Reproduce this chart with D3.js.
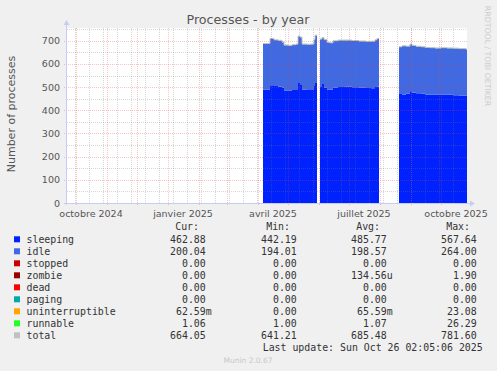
<!DOCTYPE html>
<html>
<head>
<meta charset="utf-8">
<script src="https://cdn.jsdelivr.net/npm/d3@7"></script>
<style>
  body { margin: 0; background: #f0f0f0; }
  svg { display: block; }
  text { white-space: pre; }
</style>
</head>
<body>
<div id="chart"></div>
<script>
// Samples (null = no data)
const dates = [
  '2025-04-06','2025-04-13','2025-04-17','2025-04-21','2025-04-25','2025-04-27','2025-05-01','2025-05-05',
  '2025-05-09','2025-05-11','2025-05-13','2025-05-15','2025-05-20','2025-05-24','2025-05-27','2025-05-28',
  '2025-05-30','2025-05-31',
  '2025-06-02','2025-06-04','2025-06-06','2025-06-09','2025-06-12','2025-06-15','2025-06-20','2025-06-27',
  '2025-07-04','2025-07-11','2025-07-18','2025-07-23','2025-07-27','2025-07-29','2025-07-31','2025-08-01',
  '2025-08-20','2025-08-23','2025-08-27','2025-08-31','2025-09-02','2025-09-06','2025-09-11','2025-09-15',
  '2025-09-20','2025-09-25','2025-10-01','2025-10-07','2025-10-13','2025-10-19','2025-10-26','2025-10-27'
];
const sleeping = [
  489, 508, 505, 502, 497, 485, 484, 487, 488, 518, 512, 490, 487, 488, 505, 518, 518, null,
  500, 513, 498, 490, 489, 498, 500, 502, 499, 497, 496, 495, 500, 503, 503, null,
  470, 468, 472, 482, 476, 474, 472, 467, 468, 467, 468, 467, 465, 464, 463, 463
];
const idle = [
  198, 201, 198, 199, 197, 196, 195, 195, 197, 201, 203, 195, 197, 197, 199, 205, 205, null,
  207, 200, 206, 202, 201, 201, 202, 200, 201, 201, 200, 202, 203, 206, 206, null,
  203, 209, 204, 203, 203, 201, 201, 203, 201, 201, 201, 201, 202, 201, 200, 200
];
const runnable = [
  1, 1, 1, 1, 1, 1, 1, 1, 1, 1, 1, 1, 1, 1, 1, 1, 1, null,
  1, 1, 1, 1, 1, 1, 1, 1, 1, 1, 1, 1, 1, 1, 1, null,
  1, 1, 1, 1, 1, 1, 1, 1, 1, 1, 1, 1, 1, 1, 1, 1
];
const total = [
  688, 710, 704, 702, 695, 682, 680, 683, 686, 720, 716, 686, 685, 686, 705, 724, 724, null,
  708, 714, 705, 693, 691, 700, 703, 703, 701, 699, 697, 698, 704, 710, 710, null,
  674, 678, 677, 686, 680, 676, 674, 671, 670, 669, 670, 669, 668, 666, 664, 664
];

const yTicks = [0, 100, 200, 300, 400, 500, 600, 700];
const monthLabels = ['octobre 2024', 'janvier 2025', 'avril 2025', 'juillet 2025', 'octobre 2025'];
const monthLabelDates = ['2024-10-16', '2025-01-16', '2025-04-16', '2025-07-16', '2025-10-16'];

const legendNames = ['sleeping', 'idle', 'stopped', 'zombie', 'dead', 'paging', 'uninterruptible', 'runnable', 'total'];
const legendColors = ['#0022ff', '#4169e1', '#cc0000', '#990000', '#ff0000', '#00aaaa', '#ffa500', '#22ff22', '#c0c0c0'];
const curVals = ['462.88 ', '200.04 ', '  0.00 ', '  0.00 ', '  0.00 ', '  0.00 ', ' 62.59m', '  1.06 ', '664.05 '];
const minVals = ['442.19 ', '194.01 ', '  0.00 ', '  0.00 ', '  0.00 ', '  0.00 ', '  0.00 ', '  1.00 ', '641.21 '];
const avgVals = ['485.77 ', '198.57 ', '  0.00 ', '134.56u', '  0.00 ', '  0.00 ', ' 65.59m', '  1.07 ', '685.48 '];
const maxVals = ['567.64 ', '264.00 ', '  0.00 ', '  1.90 ', '  0.00 ', '  0.00 ', ' 23.08 ', ' 26.29 ', '781.60 '];

const W = 497, H = 371;
const plotL = 67, plotR = 467, plotT = 28, plotB = 203;

const svg = d3.select('#chart').append('svg')
    .attr('width', W)
    .attr('height', H);

svg.append('rect').attr('width', W).attr('height', H).attr('fill', '#f0f0f0');
svg.append('rect')
    .attr('x', plotL).attr('y', plotT)
    .attr('width', plotR - plotL).attr('height', plotB - plotT)
    .attr('fill', '#ffffff');

const parse = d3.utcParse('%Y-%m-%d');
const x = d3.scaleUtc()
    .domain([Date.UTC(2024, 8, 22), Date.UTC(2025, 9, 27)])
    .range([plotL, plotR]);
const y = d3.scaleLinear()
    .domain([0, 755])
    .range([plotB, plotT]);

// stacked data
const rows = dates.map((d, i) => ({
    date: parse(d),
    sleeping: sleeping[i] == null ? NaN : sleeping[i],
    idle: idle[i] == null ? NaN : idle[i],
    runnable: runnable[i] == null ? NaN : runnable[i],
    total: total[i] == null ? NaN : total[i]
}));
const stack = d3.stack().keys(['sleeping', 'idle', 'runnable']);
const series = stack(rows);
const seriesColors = ['#0022ff', '#4169e1', '#22ff22'];

const area = d3.area()
    .defined(d => !isNaN(d[1]))
    .curve(d3.curveStepAfter)
    .x(d => x(d.data.date))
    .y0(d => y(d[0]))
    .y1(d => y(d[1]));

svg.append('g').selectAll('path')
    .data(series)
    .enter().append('path')
    .attr('d', area)
    .attr('fill', (d, i) => seriesColors[i]);

const totalLine = d3.line()
    .defined(d => !isNaN(d.total))
    .curve(d3.curveStepAfter)
    .x(d => x(d.date))
    .y(d => y(d.total));
svg.append('path')
    .datum(rows)
    .attr('d', totalLine)
    .attr('fill', 'none')
    .attr('stroke', '#c0c0c0')
    .attr('stroke-width', 1);

// grid is drawn over the data, like rrdtool does
const grid = svg.append('g');
const minorColor = 'rgba(120,120,120,0.3)';
const majorColor = 'rgba(240,60,60,0.3)';
const biweekly = d3.utcMonday.range(new Date(Date.UTC(2024, 8, 30)), x.domain()[1]).filter((d, i) => i % 2 === 0);
biweekly.forEach(d => {
    const px = Math.round(x(d)) + 0.5;
    grid.append('line')
        .attr('x1', px).attr('x2', px).attr('y1', plotT).attr('y2', plotB)
        .attr('stroke', minorColor).attr('stroke-dasharray', '1,1');
});
d3.range(50, 755, 100).forEach(v => {
    const py = Math.round(y(v)) + 0.5;
    grid.append('line')
        .attr('x1', plotL).attr('x2', plotR).attr('y1', py).attr('y2', py)
        .attr('stroke', minorColor).attr('stroke-dasharray', '1,1');
});
const months = d3.utcMonth.range(x.domain()[0], x.domain()[1]);
months.forEach(d => {
    const px = Math.round(x(d)) + 0.5;
    grid.append('line')
        .attr('x1', px).attr('x2', px).attr('y1', plotT).attr('y2', plotB + 3)
        .attr('stroke', majorColor).attr('stroke-dasharray', '1,1');
});
yTicks.forEach(v => {
    const py = Math.round(y(v)) + 0.5;
    grid.append('line')
        .attr('x1', plotL - 3).attr('x2', plotR).attr('y1', py).attr('y2', py)
        .attr('stroke', majorColor).attr('stroke-dasharray', '1,1');
});

// axes
const axisColor = '#c6cdf5';
svg.append('line')
    .attr('x1', plotL - 2).attr('x2', plotR + 3).attr('y1', plotB + 0.5).attr('y2', plotB + 0.5)
    .attr('stroke', axisColor);
svg.append('path')
    .attr('d', `M${plotR + 3},${plotB - 2.5}L${plotR + 8},${plotB + 0.5}L${plotR + 3},${plotB + 3.5}Z`)
    .attr('fill', axisColor);
svg.append('line')
    .attr('x1', plotL - 0.5).attr('x2', plotL - 0.5).attr('y1', plotB + 2).attr('y2', plotT - 3)
    .attr('stroke', axisColor);
svg.append('path')
    .attr('d', `M${plotL - 3.5},${plotT - 3}L${plotL - 0.5},${plotT - 8}L${plotL + 2.5},${plotT - 3}Z`)
    .attr('fill', axisColor);

// tick labels
svg.append('g').selectAll('text')
    .data(yTicks)
    .enter().append('text')
    .attr('x', plotL - 7)
    .attr('y', d => y(d) + 3.5)
    .attr('text-anchor', 'end')
    .attr('font-family', 'DejaVu Sans')
    .attr('font-size', '9.5px')
    .attr('fill', '#555')
    .text(d => d);

svg.append('g').selectAll('text')
    .data(monthLabels)
    .enter().append('text')
    .attr('x', (d, i) => x(parse(monthLabelDates[i])))
    .attr('y', 217)
    .attr('text-anchor', 'middle')
    .attr('font-family', 'DejaVu Sans')
    .attr('font-size', '9.5px')
    .attr('fill', '#555')
    .text(d => d);

// titles
svg.append('text')
    .attr('x', 248).attr('y', 23.5)
    .attr('text-anchor', 'middle')
    .attr('font-family', 'DejaVu Sans')
    .attr('font-size', '12.7px')
    .attr('fill', '#555')
    .text('Processes - by year');

svg.append('text')
    .attr('transform', 'translate(15,114) rotate(-90)')
    .attr('text-anchor', 'middle')
    .attr('font-family', 'DejaVu Sans')
    .attr('font-size', '11px')
    .attr('fill', '#555')
    .text('Number of processes');

svg.append('text')
    .attr('transform', 'translate(485,56) rotate(90)')
    .attr('text-anchor', 'middle')
    .attr('font-family', 'DejaVu Sans')
    .attr('font-size', '7.8px')
    .attr('fill', '#cccccc')
    .text('RRDTOOL / TOBI OETIKER');

// legend
const legend = svg.append('g')
    .attr('font-family', 'DejaVu Sans Mono')
    .attr('font-size', '9.9px')
    .attr('fill', '#333');

[['Cur:', 199], ['Min:', 290], ['Avg:', 380], ['Max:', 470]].forEach(h => {
    legend.append('text').attr('x', h[1]).attr('y', 230.3).attr('text-anchor', 'end').text(h[0]);
});

legendNames.forEach((name, i) => {
    const cy = 239.3 + 12 * i;
    legend.append('rect')
        .attr('x', 14).attr('y', cy - 3)
        .attr('width', 6).attr('height', 6)
        .attr('fill', legendColors[i]);
    legend.append('text').attr('x', 26.5).attr('y', cy + 3.5).text(name);
    [[curVals, 211.7], [minVals, 302.7], [avgVals, 392.7], [maxVals, 482.7]].forEach(c => {
        legend.append('text')
            .attr('x', c[1]).attr('y', cy + 3.5)
            .attr('text-anchor', 'end')
            .text(c[0][i]);
    });
});

legend.append('text')
    .attr('x', 482.7).attr('y', 350.8)
    .attr('text-anchor', 'end')
    .text('Last update: Sun Oct 26 02:05:06 2025');

svg.append('text')
    .attr('x', 248).attr('y', 362.5)
    .attr('text-anchor', 'middle')
    .attr('font-family', 'DejaVu Sans')
    .attr('font-size', '7.5px')
    .attr('fill', '#c8c8c8')
    .text('Munin 2.0.67');
</script>
</body>
</html>
